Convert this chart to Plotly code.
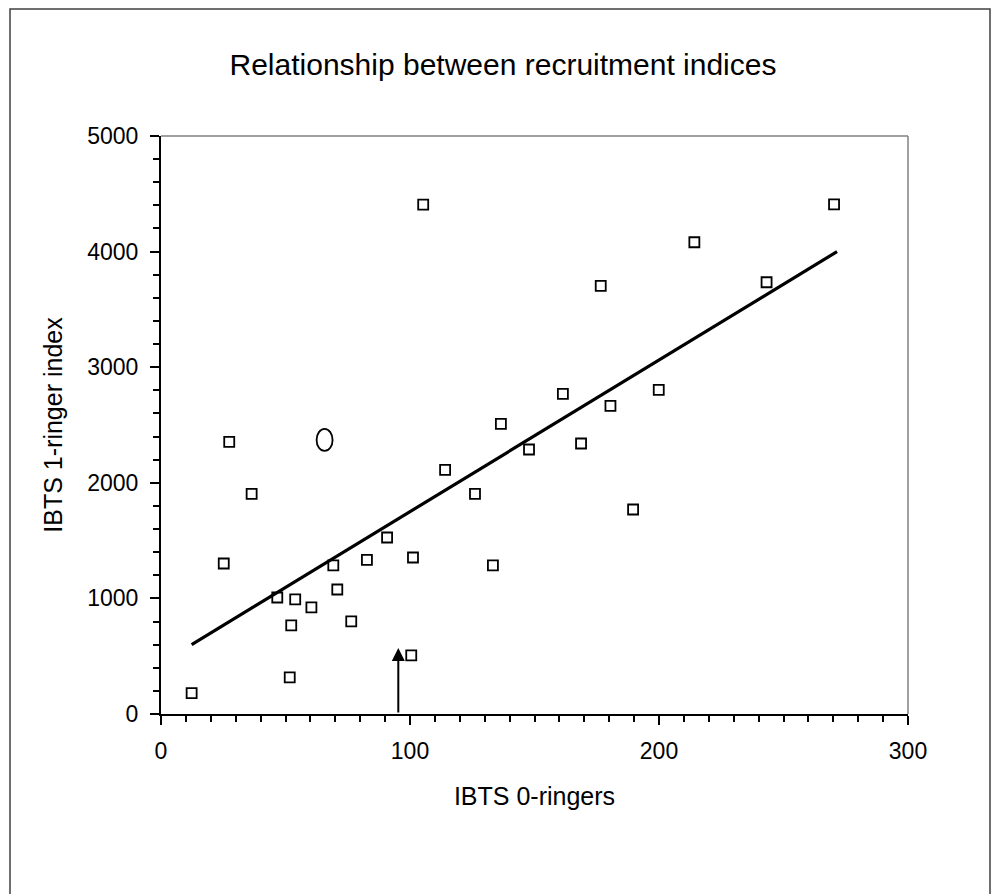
import plotly.graph_objects as go

# ---- data ----
ibts_0_ringers = [12.3, 25.2, 27.4, 36.4, 46.7, 51.7, 52.3, 53.9, 60.4, 69.2,
                  70.8, 76.4, 82.7, 90.8, 100.5, 101.2, 105.3, 114.1, 126.1, 133.3,
                  136.5, 147.8, 161.4, 168.7, 176.6, 180.5, 189.6, 199.9, 214.2,
                  243.2, 270.3]
ibts_1_ringers = [181, 1302, 2354, 1905, 1008, 317, 766, 991, 922, 1285,
                  1077, 801, 1334, 1527, 507, 1354, 4406, 2112, 1905, 1285,
                  2510, 2288, 2769, 2340, 3703, 2666, 1769, 2804, 4081,
                  3735, 4409]

trend_x = [12.3, 271.5]
trend_y = [600, 4000]

highlight_x = 65.7
highlight_y = 2371

arrow_x = 95.3
arrow_y_start = 0
arrow_y_end = 570

x_ticks = [0, 100, 200, 300]
y_ticks = [0, 1000, 2000, 3000, 4000, 5000]

FONT = "Liberation Sans, Arial, sans-serif"

# page body has an 8px margin, so figure coords = screen coords - 8
OFF = 8
W, H = 1000, 894
L, R, T, B = 161 - OFF, 908 - OFF, 136 - OFF, 714 - OFF

fig = go.Figure()

fig.add_trace(go.Scatter(
    x=ibts_0_ringers, y=ibts_1_ringers, mode="markers",
    marker=dict(symbol="square-open", size=10, color="black",
                line=dict(width=1.8, color="black")),
    showlegend=False, hoverinfo="x+y"))

fig.add_trace(go.Scatter(
    x=trend_x, y=trend_y, mode="lines",
    line=dict(color="black", width=3.2), showlegend=False))

# highlighted point: open ellipse
fig.add_shape(type="circle", xref="x", yref="y",
              xsizemode="pixel", ysizemode="pixel",
              xanchor=highlight_x, yanchor=highlight_y,
              x0=-8, x1=8, y0=-11, y1=11,
              line=dict(color="black", width=1.8))

# arrow
fig.add_annotation(x=arrow_x, y=arrow_y_end, ax=arrow_x, ay=arrow_y_start,
                   xref="x", yref="y", axref="x", ayref="y",
                   text="", showarrow=True, arrowhead=2, arrowsize=1.3,
                   arrowwidth=2, arrowcolor="black", standoff=0)

def px_x(p):
    return (p - OFF - L) / (R - L)

def px_y(p):
    return (B - (p - OFF)) / (B - T)

# plot-area top/right border (grey)
fig.add_shape(type="line", xref="paper", yref="paper", x0=0, x1=1, y0=1, y1=1,
              line=dict(color="#808080", width=1.5))
fig.add_shape(type="line", xref="paper", yref="paper", x0=1, x1=1, y0=0, y1=1,
              line=dict(color="#808080", width=1.5))

# outer chart border
fig.add_shape(type="rect", xref="paper", yref="paper",
              x0=px_x(10), x1=px_x(990), y0=px_y(9), y1=px_y(930),
              line=dict(color="#404040", width=1.5), layer="below")

fig.update_layout(
    width=W, height=H,
    margin=dict(l=L, r=W - R, t=T, b=H - B, autoexpand=False),
    paper_bgcolor="white", plot_bgcolor="white",
    font=dict(family=FONT, color="black", size=23),
    title=dict(text="Relationship between recruitment indices",
               x=0.495, xref="container", xanchor="center",
               y=1 - 56 / H, yref="container", yanchor="middle",
               font=dict(family=FONT, size=30, color="black")),
    xaxis=dict(range=[0, 300], tickvals=x_ticks, showgrid=False, zeroline=False,
               showline=True, linecolor="black", linewidth=2,
               ticks="outside", ticklen=9, tickwidth=1.5, tickcolor="black",
               minor=dict(dtick=10, ticks="outside", ticklen=6, tickwidth=1.5,
                          tickcolor="black", showgrid=False),
               ticklabelstandoff=6,
               tickfont=dict(family=FONT, size=23, color="black"),
               title=dict(text="IBTS 0-ringers", standoff=25,
                          font=dict(family=FONT, size=25, color="black")),
               automargin=False, fixedrange=True),
    yaxis=dict(range=[0, 5000], tickvals=y_ticks, showgrid=False, zeroline=False,
               showline=True, linecolor="black", linewidth=2,
               ticks="outside", ticklen=9, tickwidth=1.5, tickcolor="black",
               minor=dict(dtick=200, ticks="outside", ticklen=6, tickwidth=1.5,
                          tickcolor="black", showgrid=False),
               ticklabelstandoff=7,
               tickfont=dict(family=FONT, size=23, color="black"),
               title=dict(text="IBTS 1-ringer index", standoff=17,
                          font=dict(family=FONT, size=25, color="black")),
               automargin=False, fixedrange=True),
)

fig.write_html("out.html")
